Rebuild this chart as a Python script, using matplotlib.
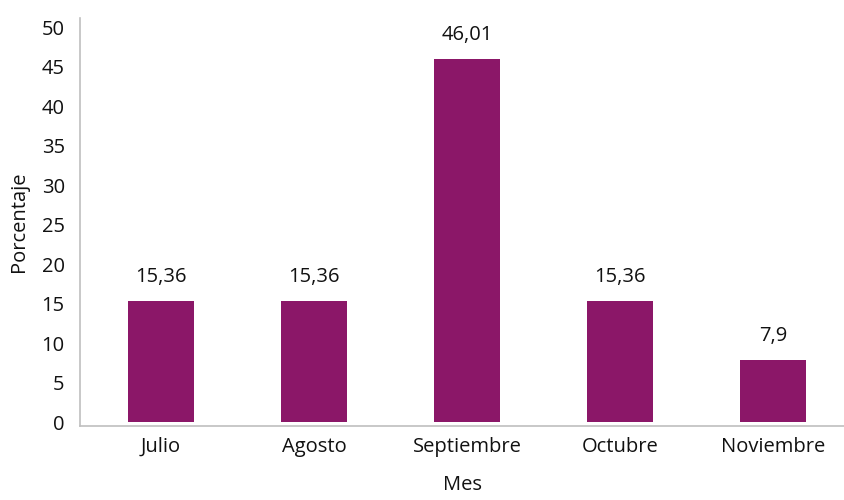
import matplotlib
matplotlib.use("Agg")
import matplotlib.pyplot as plt

months = ["Julio", "Agosto", "Septiembre", "Octubre", "Noviembre"]
values = [15.36, 15.36, 46.01, 15.36, 7.9]
value_labels = ["15,36", "15,36", "46,01", "15,36", "7,9"]
yticks = [0, 5, 10, 15, 20, 25, 30, 35, 40, 45, 50]

plt.rcParams['font.family'] = ['Open Sans', 'DejaVu Sans']

fig = plt.figure(figsize=(8.45, 5), dpi=100)
ax = fig.add_axes([0.0947, 0.148, 0.9053, 0.816])

x = list(range(len(months)))
bars = ax.bar(x, values, width=0.43, color="#8B1768", zorder=2)

for xi, v, lab in zip(x, values, value_labels):
    ax.annotate(lab, (xi, v), xytext=(0, 17), textcoords="offset points",
                ha="center", va="center", fontsize=14.5, color="#111111")

ax.set_xlim(-0.53, 4.47)
ax.set_ylim(-0.5, 51.2)
ax.set_yticks(yticks)
ax.set_yticklabels([str(t) for t in yticks])
ax.set_xticks(x)
ax.set_xticklabels(months)
ax.tick_params(axis="both", length=0, labelsize=14.5, colors="#111111")
ax.tick_params(axis="y", pad=11)
ax.tick_params(axis="x", pad=8)

for s in ["top", "right"]:
    ax.spines[s].set_visible(False)
for s in ["left", "bottom"]:
    ax.spines[s].set_color("#bfbfbf")
    ax.spines[s].set_linewidth(1.2)

ax.set_xlabel("Mes", fontsize=14.5, color="#111111", labelpad=13)
ax.set_ylabel("Porcentaje", fontsize=14.5, color="#111111", labelpad=9)

fig.savefig("out.png", dpi=100)
